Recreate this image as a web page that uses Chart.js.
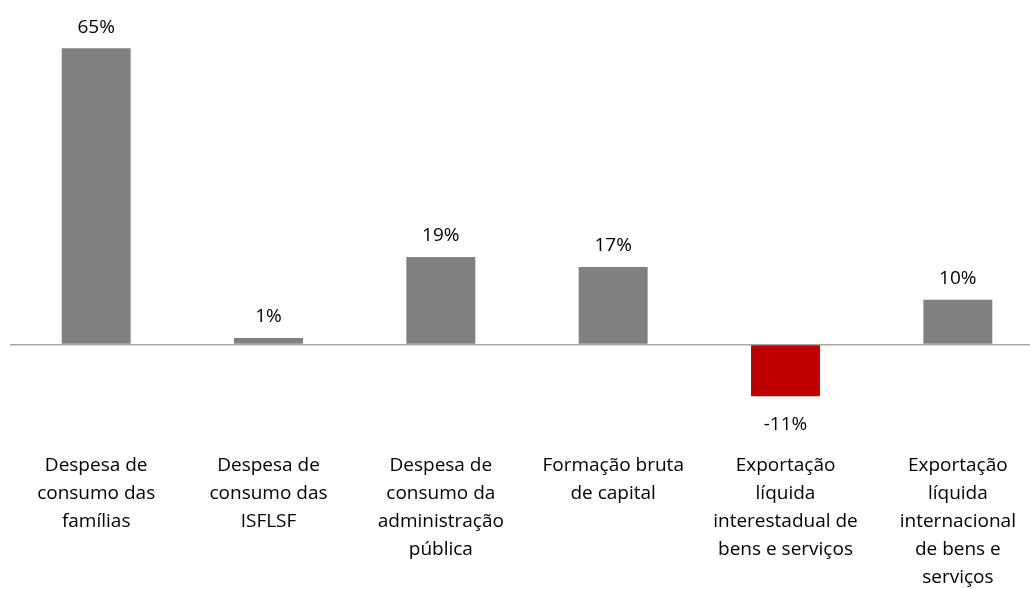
<!DOCTYPE html>
<html>
<head>
<meta charset="utf-8">
<script src="https://cdn.jsdelivr.net/npm/chart.js@4/dist/chart.umd.min.js"></script>
<style>
html,body{margin:0;padding:0;background:#fff;overflow:hidden;}
#wrap{position:relative;width:1044px;height:589px;}
</style>
</head>
<body>
<div id="wrap"><canvas id="c"></canvas></div>
<script>
const categories = [
  ["Despesa de", "consumo das", "famílias"],
  ["Despesa de", "consumo das", "ISFLSF"],
  ["Despesa de", "consumo da", "administração", "pública"],
  ["Formação bruta", "de capital"],
  ["Exportação", "líquida", "interestadual de", "bens e serviços"],
  ["Exportação", "líquida", "internacional", "de bens e", "serviços"]
];
const values = [65, 1.4, 19.2, 17.0, -11.4, 9.8];
const barColors = ["#808080", "#808080", "#808080", "#808080", "#C00000", "#808080"];

const FONT = "'Open Sans', 'DejaVu Sans', sans-serif";

const valueLabels = {
  id: 'valueLabels',
  afterDatasetsDraw(chart) {
    const ctx = chart.ctx;
    const meta = chart.getDatasetMeta(0);
    ctx.save();
    ctx.font = "19px " + FONT;
    ctx.fillStyle = "#000";
    ctx.textAlign = "center";
    ctx.textBaseline = "middle";
    meta.data.forEach((bar, i) => {
      const v = values[i];
      const txt = v.toFixed(0) + "%";
      const y = v >= 0 ? bar.y - 21 : bar.y + 28;
      ctx.fillText(txt, bar.x, y);
    });
    ctx.restore();
  }
};

new Chart(document.getElementById('c'), {
  type: 'bar',
  data: {
    labels: categories,
    datasets: [{
      data: values,
      backgroundColor: barColors,
      borderWidth: 0,
      barPercentage: 0.4,
      categoryPercentage: 1.0
    }]
  },
  options: {
    responsive: true,
    maintainAspectRatio: false,
    animation: false,
    layout: { padding: { left: 10, right: 0, top: 25.5, bottom: 0 } },
    plugins: { legend: { display: false }, tooltip: { enabled: false } },
    scales: {
      x: {
        position: 'bottom',
        grid: { display: false, drawTicks: false },
        border: { display: false },
        ticks: {
          color: "#000",
          font: { family: FONT, size: 19, lineHeight: 1.47 },
          padding: 16,
          maxRotation: 0,
          autoSkip: false
        },
        afterFit(s) { s.height = 153.5; }
      },
      y: {
        min: -20,
        max: 70,
        ticks: { display: false, stepSize: 10 },
        border: { display: false },
        grid: {
          drawTicks: false,
          lineWidth: 1.5,
          color: (c) => (c.tick && c.tick.value === 0) ? "#A6A6A6" : "rgba(0,0,0,0)"
        },
        afterFit(s) { s.width = 0; }
      }
    }
  },
  plugins: [valueLabels]
});
</script>
</body>
</html>
